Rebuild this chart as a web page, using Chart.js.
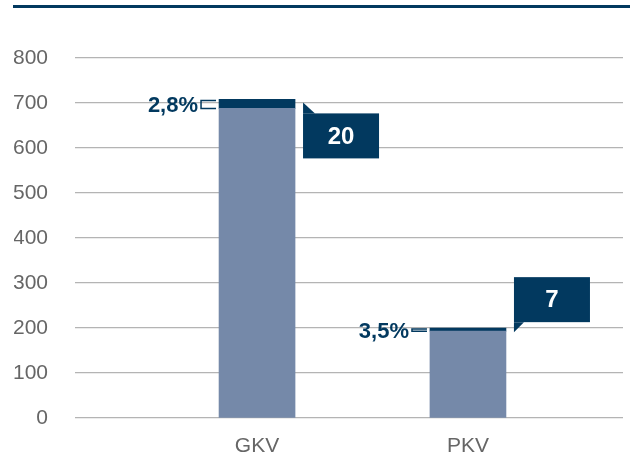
<!DOCTYPE html>
<html>
<head>
<meta charset="utf-8">
<script src="https://cdn.jsdelivr.net/npm/chart.js@4/dist/chart.umd.min.js"></script>
<style>
  html, body { margin: 0; padding: 0; background: #ffffff; }
  #wrap { width: 630px; height: 459px; position: relative; }
</style>
</head>
<body>
<div id="wrap"><canvas id="c" width="630" height="459"></canvas></div>
<script>
// ---- data ----
const categories = ['GKV', 'PKV'];
const categoryPositions = [1, 2];
const baseValues = [688, 193];
const increaseValues = [20, 7];
const percentLabels = ['2,8%', '3,5%'];
const increaseLabels = ['20', '7'];
const yTicks = [0, 100, 200, 300, 400, 500, 600, 700, 800];

const NAVY = '#02395f';
const LIGHT = '#7589a9';
const GRID = '#b4b4b4';
const FONT = '"Liberation Sans", Arial, Helvetica, sans-serif';

const calloutPlugin = {
  id: 'callouts',
  beforeDraw(chart) {
    const ctx = chart.ctx;
    ctx.save();
    ctx.fillStyle = NAVY;
    ctx.fillRect(13, 5, 617, 3);
    ctx.restore();
  },
  afterDatasetsDraw(chart, args, opts) {
    const ctx = chart.ctx;
    const meta = chart.getDatasetMeta(1);
    meta.data.forEach((bar, i) => {
      const props = bar.getProps(['x', 'y', 'base', 'width'], true);
      const left = props.x - props.width / 2;
      const right = props.x + props.width / 2;
      const top = Math.min(props.y, props.base);
      const bottom = Math.max(props.y, props.base);
      const mid = (top + bottom) / 2;
      ctx.save();
      // bracket
      ctx.strokeStyle = NAVY;
      ctx.lineWidth = 1.5;
      ctx.beginPath();
      ctx.moveTo(left - 3, top + 1);
      ctx.lineTo(left - 18, top + 1);
      ctx.lineTo(left - 18, bottom);
      ctx.lineTo(left - 3, bottom);
      ctx.stroke();
      // percent label
      ctx.fillStyle = NAVY;
      ctx.font = 'bold 22px ' + FONT;
      ctx.textAlign = 'right';
      ctx.textBaseline = 'middle';
      ctx.fillText(percentLabels[i], left - 21, mid + 2);
      // callout box
      const side = opts.sides[i];
      const bx = right + 8;
      const bw = 76, bh = 45;
      let by, tipY;
      ctx.beginPath();
      if (side === 'below') {
        tipY = top + 3;
        by = tipY + 11;
        ctx.moveTo(bx, tipY);
        ctx.lineTo(bx + 12, by);
        ctx.lineTo(bx, by);
      } else {
        tipY = bottom + 1;
        by = tipY - 10 - bh;
        ctx.moveTo(bx, tipY);
        ctx.lineTo(bx + 10, by + bh);
        ctx.lineTo(bx, by + bh);
      }
      ctx.closePath();
      ctx.fill();
      ctx.fillRect(bx, by, bw, bh);
      ctx.fillStyle = '#ffffff';
      ctx.font = 'bold 24px ' + FONT;
      ctx.textAlign = 'center';
      ctx.fillText(increaseLabels[i], bx + bw / 2, by + bh / 2 + 1);
      ctx.restore();
    });
  }
};

new Chart(document.getElementById('c'), {
  type: 'bar',
  data: {
    datasets: [
      {
        label: 'Basis',
        data: categoryPositions.map((x, i) => ({ x: x, y: baseValues[i] })),
        backgroundColor: LIGHT,
        barThickness: 76
      },
      {
        label: 'Anstieg',
        data: categoryPositions.map((x, i) => ({ x: x, y: increaseValues[i] })),
        backgroundColor: NAVY,
        barThickness: 76
      }
    ]
  },
  plugins: [calloutPlugin],
  options: {
    responsive: false,
    animation: false,
    events: [],
    layout: { padding: { left: 14, right: 7, top: 58, bottom: 2 } },
    plugins: {
      legend: { display: false },
      tooltip: { enabled: false },
      callouts: { sides: ['below', 'above'] }
    },
    scales: {
      x: {
        type: 'linear',
        stacked: true,
        offset: false,
        min: 0.137,
        max: 2.735,
        grid: { display: false, offset: false },
        border: { display: false },
        afterBuildTicks: (scale) => { scale.ticks = categoryPositions.map(v => ({ value: v })); },
        afterFit: (scale) => { scale.height = 39; },
        ticks: {
          padding: 8,
          color: '#666666',
          font: { family: FONT, size: 21 },
          callback: (v) => categories[categoryPositions.indexOf(v)] || ''
        }
      },
      y: {
        stacked: true,
        min: 0,
        max: 800,
        afterBuildTicks: (scale) => { scale.ticks = yTicks.map(v => ({ value: v })); },
        afterFit: (scale) => { scale.width = 61; },
        grid: { color: GRID, lineWidth: 1.3, drawTicks: false },
        border: { display: false },
        ticks: {
          padding: 27,
          color: '#666666',
          font: { family: FONT, size: 21 }
        }
      }
    }
  }
});
</script>
</body>
</html>
